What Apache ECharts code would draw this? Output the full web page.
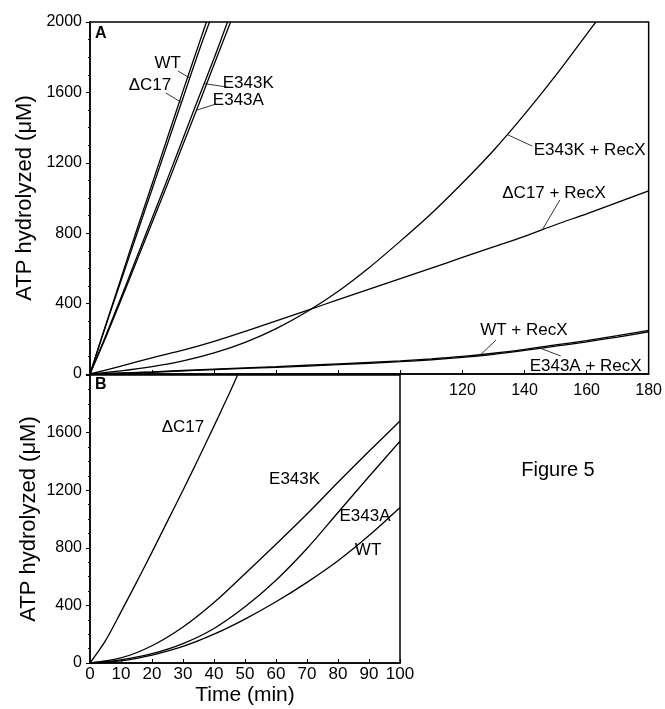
<!DOCTYPE html>
<html>
<head>
<meta charset="utf-8">
<script src="https://cdn.jsdelivr.net/npm/echarts@6/dist/echarts.min.js"></script>
<style>
html,body{margin:0;padding:0;background:#fff;}
#main{width:665px;height:709px;}
</style>
</head>
<body>
<div id="main"></div>
<script>
// panel A, [time min, ATP uM]
var wtA = [[0,0],[5,270],[10,530],[15,790],[20,1050],[25,1310],[30,1570],[35,1830],[38.5,2000]];
var dC17A = [[0,0],[5,275],[10,545],[15,815],[20,1080],[25,1345],[30,1610],[35,1870],[37.5,2000]];
var e343kA = [[0,0],[5,215],[10,435],[15,660],[20,885],[25,1110],[30,1340],[35,1570],[40,1795],[44.3,2000]];
var e343aA = [[0,0],[5,205],[10,420],[15,640],[20,860],[25,1080],[30,1305],[35,1530],[40,1760],[45.3,2000]];
var e343kRecA = [[0,0],[10,18],[20,42],[30,75],[40,120],[50,180],[60,258],[70,355],[80,470],[90,605],[100,755],[110,912],[120,1085],[130,1270],[140,1475],[150,1695],[160,1930],[163,2000]];
var dC17RecA = [[0,0],[10,45],[20,92],[30,135],[40,185],[50,242],[60,302],[70,362],[80,422],[90,482],[100,542],[110,602],[120,662],[130,722],[140,782],[150,848],[160,910],[170,975],[180,1040]];
var wtRecA = [[0,0],[20,12],[40,28],[60,42],[80,58],[100,75],[110,86],[120,100],[130,118],[140,140],[150,165],[160,190],[170,218],[180,248]];
var e343aRecA = [[0,0],[20,10],[40,25],[60,38],[80,53],[100,70],[110,81],[120,95],[130,112],[140,134],[150,158],[160,183],[170,210],[180,240]];

// panel B
var dC17B = [[0,0],[5,155],[10,355],[15,560],[20,770],[25,985],[30,1200],[35,1420],[40,1645],[45,1875],[47.6,2000]];
var e343kB = [[0,0],[10,35],[20,120],[30,250],[40,420],[50,620],[60,825],[70,1035],[80,1255],[90,1470],[100,1680]];
var e343aB = [[0,0],[10,22],[20,65],[30,135],[40,240],[50,390],[60,575],[70,795],[80,1045],[90,1295],[100,1540]];
var wtB = [[0,0],[10,15],[20,55],[30,115],[40,200],[50,305],[60,425],[70,560],[80,710],[90,885],[100,1080]];

var yTicks = [0, 400, 800, 1200, 1600, 2000];
var xTicksA = [120, 140, 160, 180];

// labels: text, grid, text position, leader from, leader to
var notes = [
    {t:'WT', g:0, p:[25,1767], a:[28.3,1722], b:[32.1,1682]},
    {t:'\u0394C17', g:0, p:[19.3,1642], a:[24.4,1597], b:[29.3,1545]},
    {t:'E343K', g:0, p:[51,1653], a:[44.3,1630], b:[36.8,1650]},
    {t:'E343A', g:0, p:[47.8,1557], a:[40.6,1534], b:[34.5,1500]},
    {t:'E343K + RecX', g:0, p:[161,1273], a:[142.5,1295], b:[134.5,1360]},
    {t:'\u0394C17 + RecX', g:0, p:[149.5,1028], a:[151.4,989], b:[145.9,824]},
    {t:'WT + RecX', g:0, p:[139.8,250], a:[130.8,193], b:[126,112]},
    {t:'E343A + RecX', g:0, p:[159.7,45], a:[151.7,102], b:[144.6,150]},
    {t:'\u0394C17', g:1, p:[30,1635]},
    {t:'E343K', g:1, p:[66,1273]},
    {t:'E343A', g:1, p:[88.7,1016]},
    {t:'WT', g:1, p:[89.7,786]}
];

var font = 'Liberation Sans, Arial, sans-serif';
var myChart = echarts.init(document.getElementById('main'));

function line(data, g){
    return {
        type: 'line', xAxisIndex: g, yAxisIndex: g, data: data,
        smooth: 0.3, showSymbol: false, silent: true, clip: true,
        lineStyle: {color: '#000', width: 1.3}
    };
}

var yAxisBase = {
    type: 'value', min: 0, max: 2000, interval: 400,
    axisLine: {show: true, lineStyle: {color: '#000', width: 1.5}},
    axisTick: {show: true, inside: false, length: 4, lineStyle: {color: '#000'}},
    minorTick: {show: true, splitNumber: 4, length: 2, lineStyle: {color: '#000'}},
    splitLine: {show: false},
    axisLabel: {color: '#000', fontSize: 16, fontFamily: font, margin: 8},
    name: 'ATP hydrolyzed (\u03bcM)', nameLocation: 'middle', nameGap: 50,
    nameTextStyle: {color: '#000', fontSize: 22, fontFamily: font}
};

var option = {
    animation: false,
    backgroundColor: '#fff',
    grid: [
        {left: 90, top: 22, width: 560, height: 352, show: true, borderColor: '#000', borderWidth: 1.5},
        {left: 90, top: 375, width: 310, height: 288, show: true, borderColor: '#000', borderWidth: 1.5}
    ],
    xAxis: [
        {
            type: 'value', gridIndex: 0, min: 0, max: 180, interval: 20,
            axisLine: {show: true, lineStyle: {color: '#000', width: 1.5}},
            axisTick: {show: true, inside: true, length: 4, lineStyle: {color: '#000'}},
            splitLine: {show: false},
            axisLabel: {
                color: '#000', fontSize: 16, fontFamily: font, margin: 9,
                formatter: function(v){ return xTicksA.indexOf(v) >= 0 ? String(v) : ''; }
            }
        },
        {
            type: 'value', gridIndex: 1, min: 0, max: 100, interval: 10,
            axisLine: {show: true, lineStyle: {color: '#000', width: 1.5}},
            axisTick: {show: true, inside: true, length: 4, lineStyle: {color: '#000'}},
            splitLine: {show: false},
            axisLabel: {color: '#000', fontSize: 17, fontFamily: font, margin: 3},
            name: 'Time (min)', nameLocation: 'middle', nameGap: 22,
            nameTextStyle: {color: '#000', fontSize: 21, fontFamily: font}
        }
    ],
    yAxis: [
        echarts.util.merge({gridIndex: 0, axisLabel: {formatter: function(v){ return yTicks.indexOf(v) >= 0 ? String(v) : ''; }}}, yAxisBase),
        echarts.util.merge({gridIndex: 1, axisLabel: {formatter: function(v){ return v < 2000 ? String(v) : ''; }}}, yAxisBase)
    ],
    series: [
        line(wtA, 0), line(dC17A, 0), line(e343kA, 0), line(e343aA, 0),
        line(e343kRecA, 0), line(dC17RecA, 0), line(wtRecA, 0), line(e343aRecA, 0),
        line(dC17B, 1), line(e343kB, 1), line(e343aB, 1), line(wtB, 1)
    ]
};
myChart.setOption(option);

// annotations placed through the axes
var gfx = [];
notes.forEach(function(n){
    var p = myChart.convertToPixel({gridIndex: n.g}, n.p);
    gfx.push({
        type: 'text', x: p[0], y: p[1], silent: true,
        style: {text: n.t, fill: '#000', font: '17px ' + font, align: 'center', verticalAlign: 'middle'}
    });
    if(n.a){
        var a = myChart.convertToPixel({gridIndex: n.g}, n.a);
        var b = myChart.convertToPixel({gridIndex: n.g}, n.b);
        gfx.push({
            type: 'line', silent: true,
            shape: {x1: a[0], y1: a[1], x2: b[0], y2: b[1]},
            style: {stroke: '#000', lineWidth: 0.8}
        });
    }
});
var cA = myChart.convertToPixel({gridIndex: 0}, [0, 2000]);
var cB = myChart.convertToPixel({gridIndex: 1}, [0, 2000]);
gfx.push({type: 'text', x: cA[0] + 5, y: cA[1] + 4, style: {text: 'A', fill: '#000', font: 'bold 16px ' + font}});
gfx.push({type: 'text', x: cB[0] + 5, y: cB[1] + 2, style: {text: 'B', fill: '#000', font: 'bold 16px ' + font}});
gfx.push({type: 'text', x: 558, y: 470, style: {text: 'Figure 5', fill: '#000', font: '20px ' + font, align: 'center', verticalAlign: 'middle'}});
myChart.setOption({graphic: gfx});
</script>
</body>
</html>
